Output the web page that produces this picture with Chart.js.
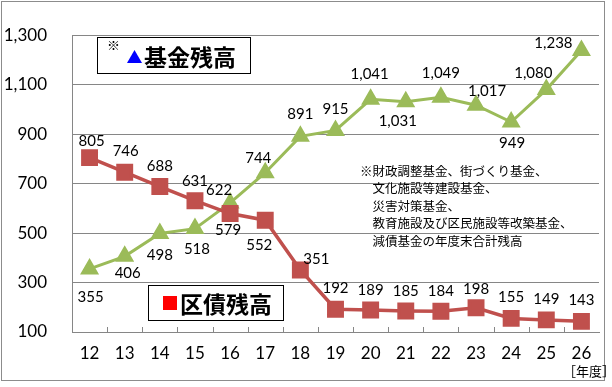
<!DOCTYPE html>
<html>
<head>
<meta charset="utf-8">
<script src="https://cdn.jsdelivr.net/npm/chart.js@4/dist/chart.umd.min.js"></script>
<style>
  html, body { margin: 0; padding: 0; background: #fff; }
  canvas { display: block; }
</style>
</head>
<body>
<canvas id="c" width="612" height="387"></canvas>
<script>
// fiscal years (Heisei)
const years = ['12','13','14','15','16','17','18','19','20','21','22','23','24','25','26'];
// 基金残高 (fund balance)
const fundBalance = [355, 406, 498, 518, 622, 744, 891, 915, 1041, 1031, 1049, 1017, 949, 1080, 1238];
// 区債残高 (ward bond balance)
const bondBalance = [805, 746, 688, 631, 579, 552, 351, 192, 189, 185, 184, 198, 155, 149, 143];
const yTicks = [100, 300, 500, 700, 900, 1100, 1300];

const noteLines = [
  '※財政調整基金、街づくり基金、',
  '　文化施設等建設基金、',
  '　災害対策基金、',
  '　教育施設及び区民施設等改築基金、',
  '　減債基金の年度末合計残高'
];

// where each value label sits relative to its point [dx, dy]
const fundLabelPos = [[1,28],[3,17],[0,22],[2,21],[-11,-13],[-7,-15],[0,-22],[0,-21],[-1,-25],[-8,19],[0,-24],[11,-14],[1,21],[-13,-16],[-28,-7]];
const bondLabelPos = [[2,-16],[1,-21],[0,-20],[0,-20],[-2,17],[-6,25],[16,-11],[0,-21],[0,-20],[0,-20],[0,-20],[0,-19],[0,-21],[0,-21],[0,-21]];

const numFont = 'Lato, "Open Sans", sans-serif';
const jpFont = '"Noto Sans CJK JP", sans-serif';

const fmt = v => v.toLocaleString('en-US');

const decor = {
  id: 'decor',
  beforeDraw(chart) {
    const ctx = chart.ctx;
    ctx.save();
    ctx.fillStyle = '#fff';
    ctx.fillRect(0, 0, chart.width, chart.height);
    ctx.restore();
  },
  afterDatasetsDraw(chart) {
    const ctx = chart.ctx;
    ctx.save();
    ctx.font = '15px ' + numFont;
    ctx.fillStyle = '#000';
    ctx.textAlign = 'center';
    ctx.textBaseline = 'middle';
    [[0, bondLabelPos], [1, fundLabelPos]].forEach(([di, pos]) => {
      const meta = chart.getDatasetMeta(di);
      meta.data.forEach((pt, i) => {
        const v = chart.data.datasets[di].data[i];
        ctx.fillText(fmt(v), pt.x + pos[i][0], pt.y + pos[i][1]);
      });
    });
    ctx.restore();
  },
  afterDraw(chart) {
    const ctx = chart.ctx;
    const area = chart.chartArea;
    const xs = chart.scales.x;
    ctx.save();
    // small inner tick marks on the category axis
    ctx.strokeStyle = '#868686';
    ctx.lineWidth = 1;
    const n = years.length;
    for (let i = 1; i < n; i++) {
      const x = Math.round(xs.left + i * (xs.width / n)) + 0.5;
      ctx.beginPath();
      ctx.moveTo(x, area.bottom);
      ctx.lineTo(x, area.bottom - 5);
      ctx.stroke();
    }
    // outer frame
    ctx.strokeStyle = '#8c8c8c';
    ctx.strokeRect(1.5, 1.5, 603, 379);

    // legend box: fund
    ctx.fillStyle = '#fff';
    ctx.fillRect(97, 37, 153, 36);
    ctx.strokeStyle = '#000';
    ctx.strokeRect(97.5, 37.5, 153, 36);
    ctx.fillStyle = '#000';
    ctx.font = '13px ' + jpFont;
    ctx.textAlign = 'left';
    ctx.textBaseline = 'middle';
    ctx.fillText('※', 107, 45);
    ctx.fillStyle = '#0000ff';
    ctx.beginPath();
    ctx.moveTo(134.5, 50);
    ctx.lineTo(142, 63);
    ctx.lineTo(127, 63);
    ctx.closePath();
    ctx.fill();
    ctx.fillStyle = '#000';
    ctx.font = 'bold 23px ' + jpFont;
    ctx.fillText('基金残高', 144, 57);

    // legend box: bonds
    ctx.fillStyle = '#fff';
    ctx.fillRect(148, 285, 135, 35);
    ctx.strokeStyle = '#000';
    ctx.strokeRect(148.5, 285.5, 135, 35);
    ctx.fillStyle = '#ff0000';
    ctx.fillRect(163, 296, 14, 14);
    ctx.fillStyle = '#000';
    ctx.fillText('区債残高', 180, 304);

    // note
    ctx.font = '12.5px ' + jpFont;
    noteLines.forEach((t, i) => ctx.fillText(t, 360, 171 + i * 17.5));

    // unit
    ctx.font = '13px ' + jpFont;
    ctx.fillText('［年度］', 563, 371);
    ctx.restore();
  }
};

new Chart(document.getElementById('c'), {
  type: 'line',
  data: {
    labels: years,
    datasets: [
      {
        label: '区債残高',
        data: bondBalance,
        borderColor: '#c0504d',
        backgroundColor: '#c0504d',
        borderWidth: 3.5,
        pointStyle: 'rect',
        pointRadius: 9.5,
        pointHoverRadius: 9.5,
        tension: 0,
        order: 1
      },
      {
        label: '基金残高',
        data: fundBalance,
        borderColor: '#9bbb59',
        backgroundColor: '#9bbb59',
        borderWidth: 3,
        pointStyle: 'triangle',
        pointRadius: 8,
        pointHoverRadius: 8,
        tension: 0,
        order: 2
      }
    ]
  },
  options: {
    responsive: false,
    animation: false,
    events: [],
    layout: { padding: { top: 28, right: 8, left: 0, bottom: 0 } },
    plugins: { legend: { display: false }, tooltip: { enabled: false } },
    scales: {
      x: {
        offset: true,
        afterFit: s => { s.height = 55; },
        grid: { display: false, drawTicks: false },
        border: { color: '#868686', width: 1 },
        ticks: { color: '#000', padding: 11, font: { family: numFont, size: 17 } }
      },
      y: {
        min: 100,
        max: 1300,
        afterFit: s => { s.width = 72; },
        afterBuildTicks: s => { s.ticks = yTicks.map(v => ({ value: v })); },
        grid: { color: '#868686', drawTicks: false },
        border: { color: '#868686', width: 1 },
        ticks: {
          color: '#000',
          padding: 25,
          font: { family: numFont, size: 17 },
          callback: v => fmt(v)
        }
      }
    }
  },
  plugins: [decor]
});
</script>
</body>
</html>
